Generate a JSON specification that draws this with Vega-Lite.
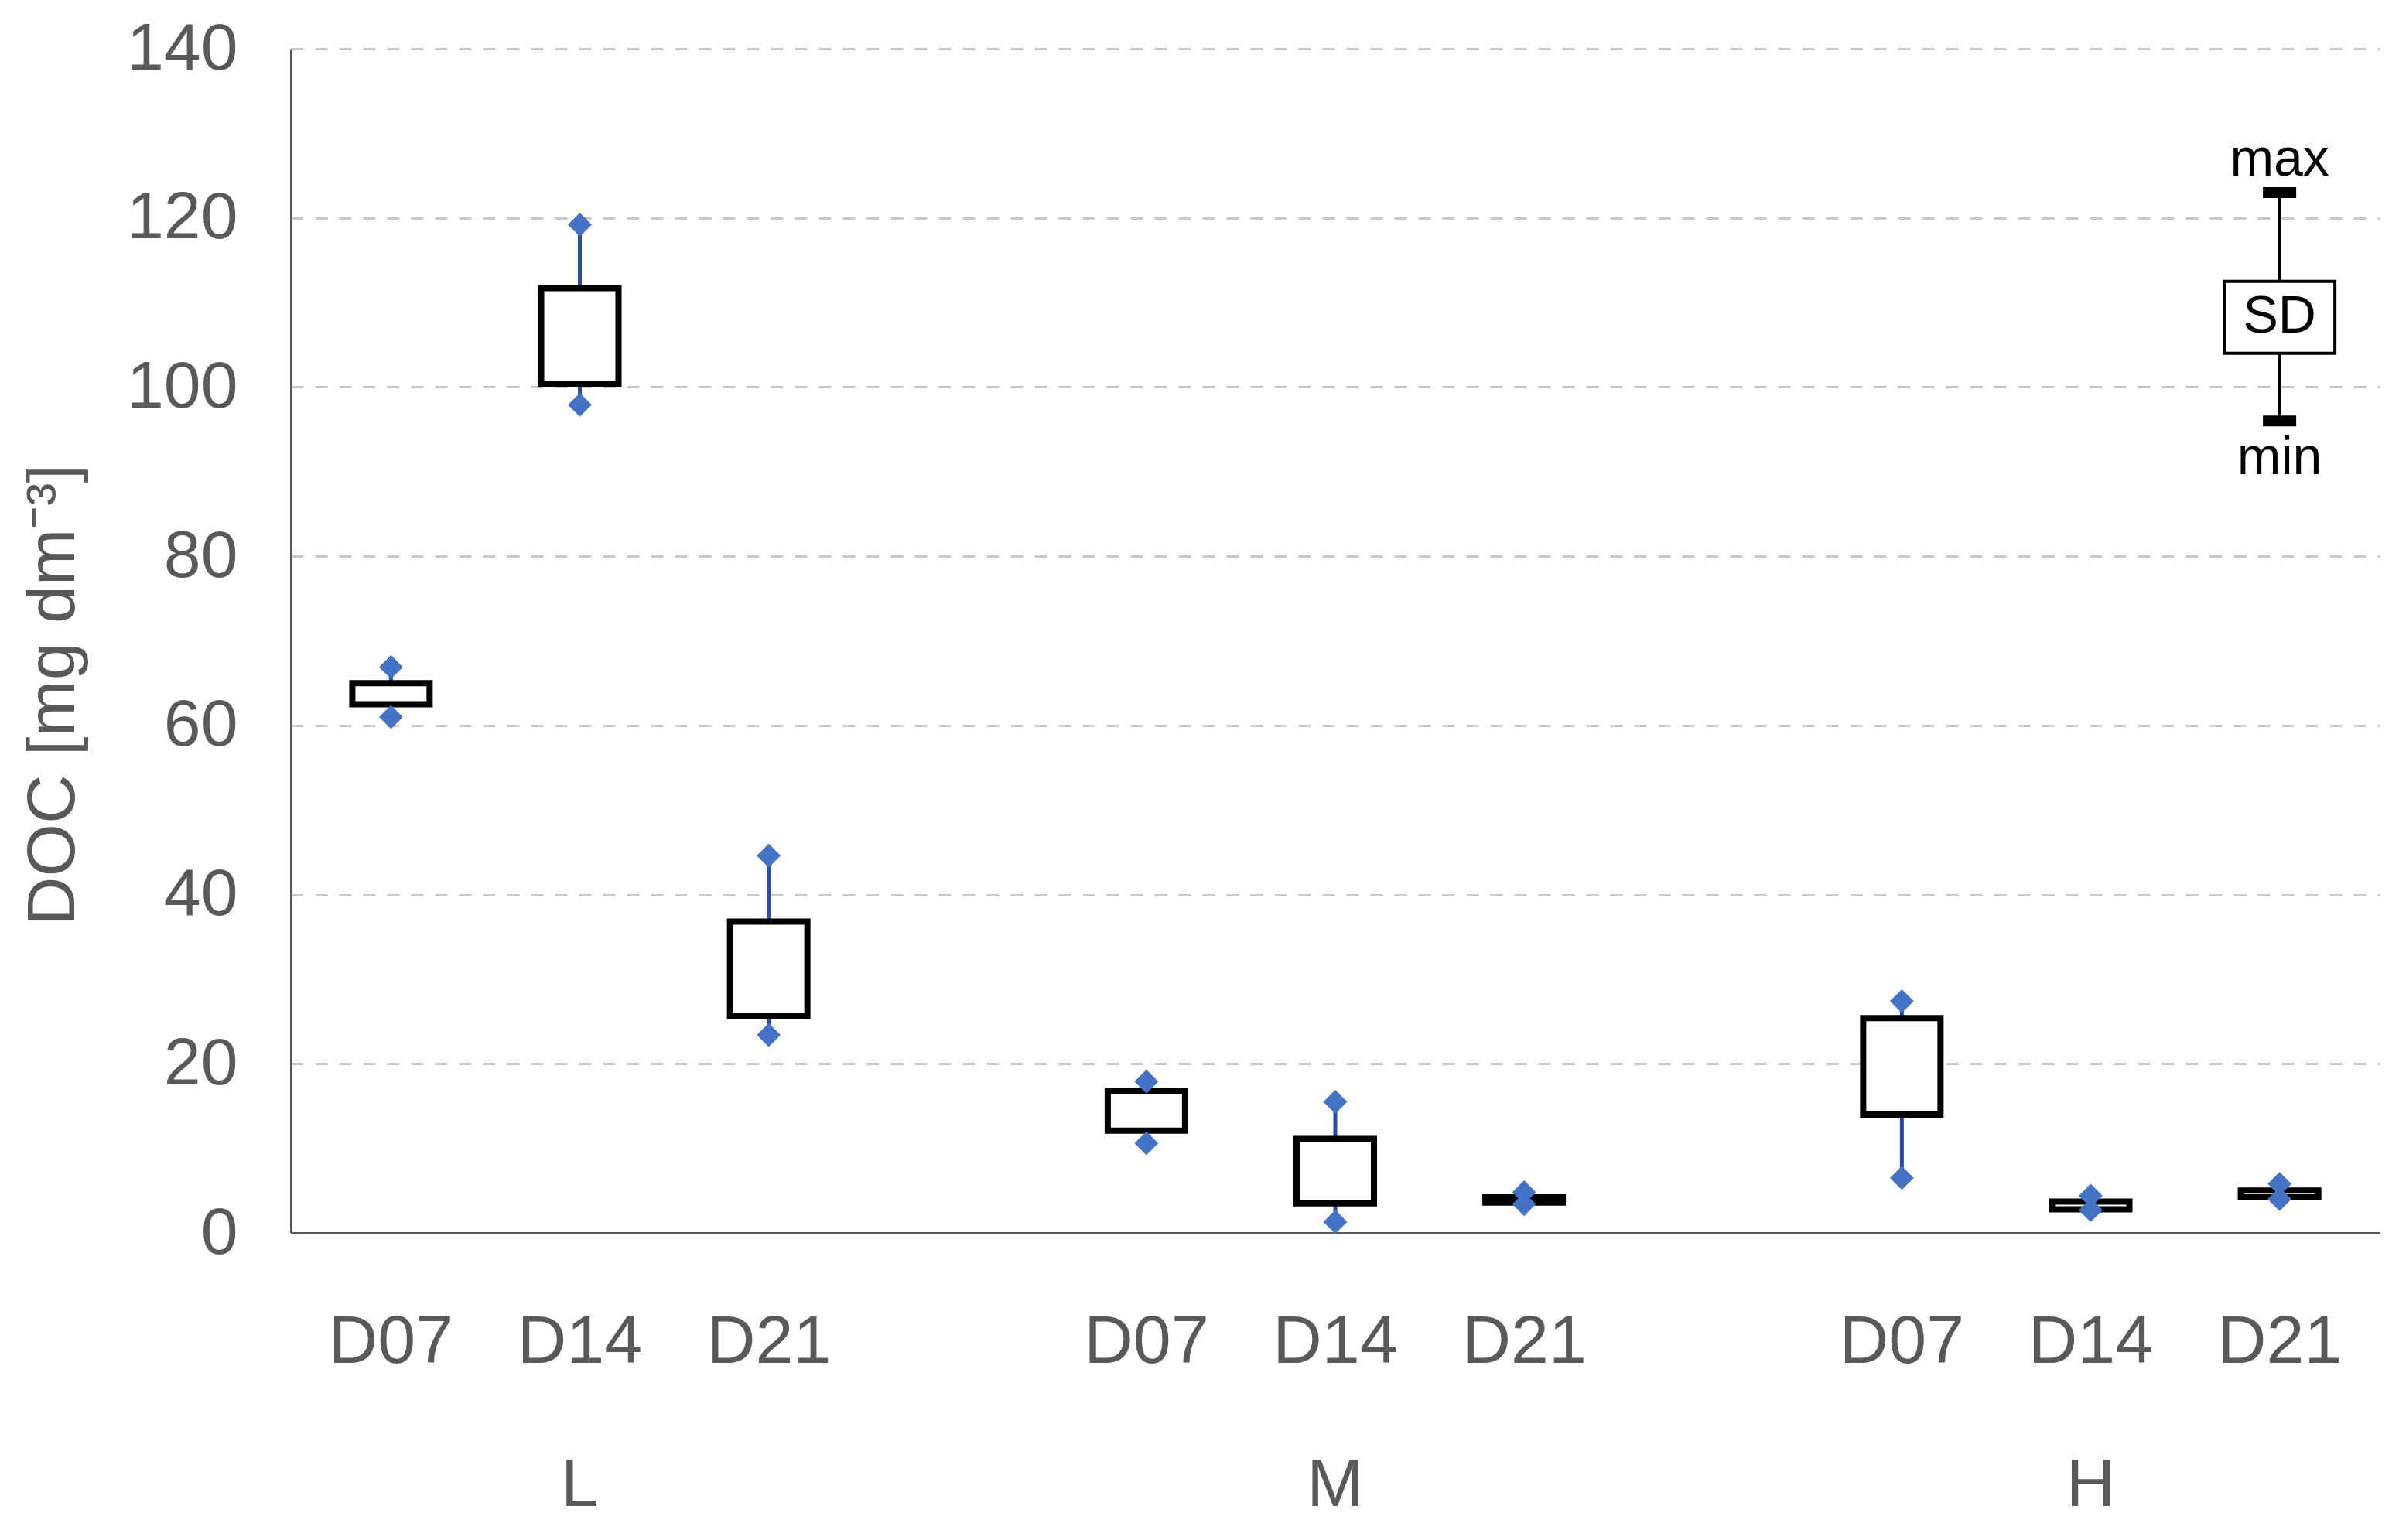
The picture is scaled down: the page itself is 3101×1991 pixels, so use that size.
{
  "$schema": "https://vega.github.io/schema/vega-lite/v6.json",
  "autosize": {"type": "none"},
  "padding": {"left": 376, "top": 63, "right": 25, "bottom": 397},
  "width": 2700,
  "height": 1531,
  "background": "white",
  "config": {"view": {"stroke": null}, "font": "Liberation Sans"},
  "datasets": {
    "boxes": [
      {"cat": "L|D07", "min": 61.0, "lo": 62.5, "hi": 65.0, "max": 66.9},
      {"cat": "L|D14", "min": 97.9, "lo": 100.4, "hi": 111.7, "max": 119.2},
      {"cat": "L|D21", "min": 23.4, "lo": 25.6, "hi": 36.8, "max": 44.6},
      {"cat": "M|D07", "min": 10.6, "lo": 12.1, "hi": 16.8, "max": 17.9},
      {"cat": "M|D14", "min": 1.3, "lo": 3.5, "hi": 11.1, "max": 15.5},
      {"cat": "M|D21", "min": 3.4, "lo": 3.6, "hi": 4.2, "max": 4.8},
      {"cat": "H|D07", "min": 6.5, "lo": 14.0, "hi": 25.4, "max": 27.4},
      {"cat": "H|D14", "min": 2.7, "lo": 2.8, "hi": 3.7, "max": 4.4},
      {"cat": "H|D21", "min": 4.0, "lo": 4.2, "hi": 5.0, "max": 5.8}
    ],
    "legend": [{"cat": "H|D21", "min": 96, "lo": 104, "hi": 112.5, "max": 123}],
    "legendText": [
      {"cat": "H|D21", "y": 126.8, "label": "max"},
      {"cat": "H|D21", "y": 108.3, "label": "SD"},
      {"cat": "H|D21", "y": 91.5, "label": "min"}
    ]
  },
  "encoding": {
    "x": {
      "field": "cat",
      "type": "nominal",
      "scale": {
        "type": "band",
        "domain": ["L|D07", "L|D14", "L|D21", "gap1", "M|D07", "M|D14", "M|D21", "gap2", "H|D07", "H|D14", "H|D21"],
        "paddingInner": 0,
        "paddingOuter": 0.03
      },
      "axis": {
        "title": null,
        "labelAngle": 0,
        "labelFont": "Liberation Sans",
        "labelFontSize": 88,
        "labelColor": "#595959",
        "labelPadding": 97,
        "labelLineHeight": 185,
        "labelExpr": "indexof(datum.value, 'gap') >= 0 ? '' : (indexof(datum.value, 'D14') >= 0 ? [split(datum.value, '|')[1], split(datum.value, '|')[0]] : split(datum.value, '|')[1])",
        "ticks": false,
        "grid": false,
        "domainColor": "#595959",
        "domainWidth": 3,
        "labelOverlap": false
      }
    }
  },
  "layer": [
    {
      "data": {"name": "boxes"},
      "mark": {"type": "rule", "color": "#2a4aa8", "strokeWidth": 5},
      "encoding": {
        "y": {
          "field": "min",
          "type": "quantitative",
          "scale": {"domain": [0, 140], "nice": false},
          "axis": {
            "title": "DOC [mg dm⁻³]",
            "titleFont": "Liberation Sans",
            "titleFontSize": 88,
            "titleFontWeight": "normal",
            "titleColor": "#595959",
            "titleAngle": -90,
            "titleBaseline": "alphabetic",
            "titleAlign": "center",
            "titleX": -281,
            "titleY": 835,
            "values": [0, 20, 40, 60, 80, 100, 120, 140],
            "labelFont": "Liberation Sans",
            "labelFontSize": 86,
            "labelColor": "#595959",
            "labelPadding": 69,
            "ticks": false,
            "domainColor": "#595959",
            "domainWidth": 3,
            "grid": true,
            "gridColor": "#c8c8c8",
            "gridDash": [16, 15],
            "gridWidth": 3
          }
        },
        "y2": {"field": "max"}
      }
    },
    {
      "data": {"name": "boxes"},
      "mark": {"type": "bar", "width": 100, "fill": "white", "stroke": "black", "strokeWidth": 8},
      "encoding": {
        "y": {"field": "lo", "type": "quantitative"},
        "y2": {"field": "hi"}
      }
    },
    {
      "data": {"name": "boxes"},
      "mark": {"type": "point", "shape": "diamond", "filled": true, "size": 950, "color": "#4472c4", "opacity": 1},
      "encoding": {"y": {"field": "max", "type": "quantitative"}}
    },
    {
      "data": {"name": "boxes"},
      "mark": {"type": "point", "shape": "diamond", "filled": true, "size": 950, "color": "#4472c4", "opacity": 1},
      "encoding": {"y": {"field": "min", "type": "quantitative"}}
    },
    {
      "data": {"name": "legend"},
      "mark": {"type": "rule", "color": "black", "strokeWidth": 4},
      "encoding": {
        "y": {"field": "min", "type": "quantitative"},
        "y2": {"field": "max"}
      }
    },
    {
      "data": {"name": "legend"},
      "mark": {"type": "bar", "width": 143, "fill": "white", "stroke": "black", "strokeWidth": 4},
      "encoding": {
        "y": {"field": "lo", "type": "quantitative"},
        "y2": {"field": "hi"}
      }
    },
    {
      "data": {"name": "legend"},
      "mark": {"type": "tick", "orient": "horizontal", "size": 43, "thickness": 14, "color": "black", "opacity": 1},
      "encoding": {"y": {"field": "max", "type": "quantitative"}}
    },
    {
      "data": {"name": "legend"},
      "mark": {"type": "tick", "orient": "horizontal", "size": 43, "thickness": 14, "color": "black", "opacity": 1},
      "encoding": {"y": {"field": "min", "type": "quantitative"}}
    },
    {
      "data": {"name": "legendText"},
      "mark": {"type": "text", "fontSize": 68, "font": "Liberation Sans", "color": "black", "baseline": "middle", "align": "center"},
      "encoding": {
        "y": {"field": "y", "type": "quantitative"},
        "text": {"field": "label"}
      }
    }
  ]
}
